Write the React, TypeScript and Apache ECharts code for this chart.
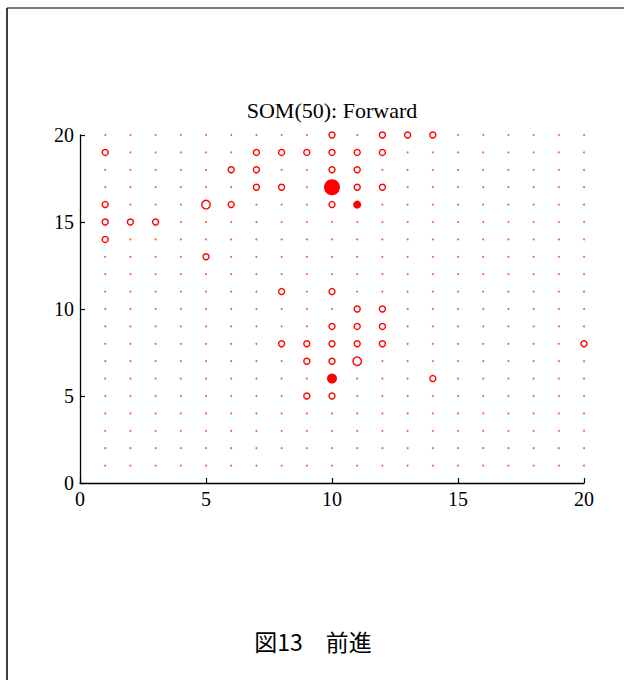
import React, { useEffect, useRef } from "react";
import * as echarts from "echarts";

// SOM lattice (20 x 20 units)
const LATTICE_X = [1, 2, 3, 4, 5, 6, 7, 8, 9, 10, 11, 12, 13, 14, 15, 16, 17, 18, 19, 20];
const LATTICE_Y = [1, 2, 3, 4, 5, 6, 7, 8, 9, 10, 11, 12, 13, 14, 15, 16, 17, 18, 19, 20];

// small open circles
const OPEN_SMALL: [number, number][] = [
  [10, 20], [12, 20], [13, 20], [14, 20],
  [1, 19], [7, 19], [8, 19], [9, 19], [10, 19], [11, 19], [12, 19],
  [6, 18], [7, 18], [10, 18], [11, 18],
  [7, 17], [8, 17], [11, 17], [12, 17],
  [1, 16], [6, 16], [10, 16],
  [1, 15], [2, 15], [3, 15],
  [1, 14],
  [5, 13],
  [8, 11], [10, 11],
  [11, 10], [12, 10],
  [10, 9], [11, 9], [12, 9],
  [8, 8], [9, 8], [10, 8], [11, 8], [12, 8], [20, 8],
  [9, 7], [10, 7],
  [14, 6],
  [9, 5], [10, 5],
];
// larger open circles
const OPEN_LARGE: [number, number][] = [[5, 16], [11, 7]];
// filled markers
const FILLED_LARGE: [number, number][] = [[10, 17]];
const FILLED_MEDIUM: [number, number][] = [[10, 6]];
const FILLED_SMALL: [number, number][] = [[11, 16]];

const X_TICKS = [0, 5, 10, 15, 20];
const Y_TICKS = [0, 5, 10, 15, 20];

const TITLE = "SOM(50): Forward";
const CAPTION = "図13　前進";

const RED = "#ff0000";
const SERIF = "'Liberation Serif', 'Times New Roman', serif";

export default function App() {
  const ref = useRef<HTMLDivElement>(null);
  useEffect(() => {
    if (!ref.current) return;
    const chart = echarts.init(ref.current, undefined, { renderer: "svg" });
    const marked = new Set(
      [...OPEN_SMALL, ...OPEN_LARGE, ...FILLED_LARGE, ...FILLED_MEDIUM, ...FILLED_SMALL].map(
        (p) => p[0] + "," + p[1]
      )
    );
    const dots: [number, number][] = [];
    for (const y of LATTICE_Y)
      for (const x of LATTICE_X) if (!marked.has(x + "," + y)) dots.push([x, y]);

    const axisCommon = {
      type: "value" as const,
      min: X_TICKS[0],
      max: X_TICKS[X_TICKS.length - 1],
      interval: X_TICKS[1] - X_TICKS[0],
      splitLine: { show: false },
      axisLine: { show: true, onZero: false, lineStyle: { color: "#000", width: 1.3 } },
      axisTick: { show: true, inside: true, length: 5, lineStyle: { color: "#000", width: 1.2 } },
      axisLabel: { color: "#000", fontFamily: SERIF, fontSize: 20, showMinLabel: true, showMaxLabel: true },
    };

    const openStyle = { color: "rgba(0,0,0,0)", borderColor: RED, borderWidth: 1.4, opacity: 1 };
    const filledStyle = { color: RED, opacity: 1 };

    chart.setOption({
      animation: false,
      backgroundColor: "#fff",
      grid: { left: 80, right: 40, top: 135, bottom: 197, containLabel: false },
      xAxis: { ...axisCommon, axisLabel: { ...axisCommon.axisLabel, margin: 6 } },
      yAxis: {
        ...axisCommon,
        min: Y_TICKS[0],
        max: Y_TICKS[Y_TICKS.length - 1],
        interval: Y_TICKS[1] - Y_TICKS[0],
        axisLabel: { ...axisCommon.axisLabel, margin: 6 },
      },
      series: [
        {
          type: "scatter",
          data: dots,
          symbol: "circle",
          symbolSize: 2,
          itemStyle: { color: "#ff5a5a", opacity: 1 },
          silent: true,
        },
        { type: "scatter", data: OPEN_SMALL, symbol: "circle", symbolSize: 6, itemStyle: openStyle, silent: true },
        { type: "scatter", data: OPEN_LARGE, symbol: "circle", symbolSize: 8.5, itemStyle: openStyle, silent: true },
        { type: "scatter", data: FILLED_LARGE, symbol: "circle", symbolSize: 16, itemStyle: filledStyle, silent: true },
        { type: "scatter", data: FILLED_MEDIUM, symbol: "circle", symbolSize: 10, itemStyle: filledStyle, silent: true },
        { type: "scatter", data: FILLED_SMALL, symbol: "circle", symbolSize: 8, itemStyle: filledStyle, silent: true },
      ],
      graphic: [
        {
          type: "line",
          shape: { x1: 7, y1: 8, x2: 624, y2: 8 },
          style: { stroke: "#777", lineWidth: 2 },
          silent: true,
        },
        {
          type: "line",
          shape: { x1: 7, y1: 8, x2: 7, y2: 680 },
          style: { stroke: "#000", lineWidth: 1.5 },
          silent: true,
        },
        {
          type: "text",
          x: 332,
          y: 110,
          style: {
            text: TITLE,
            fill: "#000",
            font: `22px ${SERIF}`,
            textAlign: "center",
            textVerticalAlign: "middle",
          },
          silent: true,
        },
        {
          type: "text",
          x: 313,
          y: 641,
          style: {
            text: CAPTION,
            fill: "#000",
            font: "23px 'Noto Sans CJK JP', sans-serif",
            textAlign: "center",
            textVerticalAlign: "middle",
          },
          silent: true,
        },
      ],
    });
    return () => chart.dispose();
  }, []);

  return (
    <div
      ref={ref}
      style={{ position: "fixed", left: 0, top: 0, width: 624, height: 680, background: "#fff" }}
    />
  );
}
